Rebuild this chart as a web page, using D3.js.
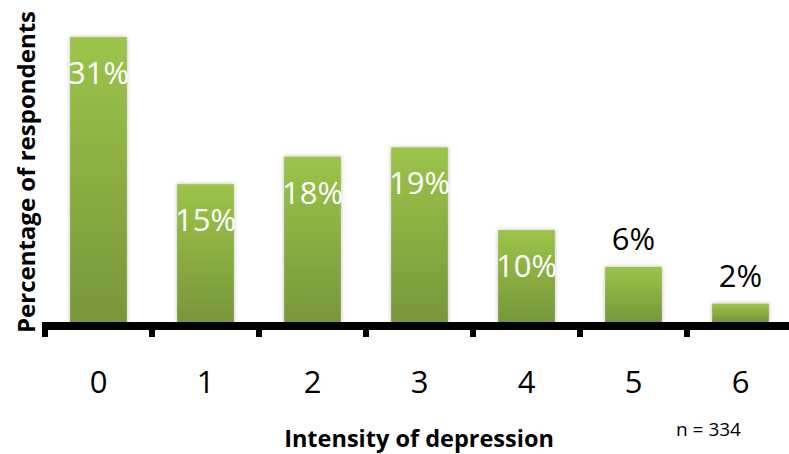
<!DOCTYPE html>
<html>
<head>
<meta charset="utf-8">
<script src="https://cdn.jsdelivr.net/npm/d3@7"></script>
<style>
  html, body { margin: 0; padding: 0; background: #fff; }
  svg { display: block; font-family: "Open Sans", "Liberation Sans", sans-serif; }
</style>
</head>
<body>
<svg id="chart" width="789" height="454"></svg>
<script>
// Distribution of depression intensity scores
const categories = ["0", "1", "2", "3", "4", "5", "6"];
const percentages = [31, 15, 18, 19, 10, 6, 2];
const valueLabels = ["31%", "15%", "18%", "19%", "10%", "6%", "2%"];
const yTitle = "Percentage of respondents";
const xTitle = "Intensity of depression";
const sampleNote = "n = 334";

const svg = d3.select("#chart");
const baseY = 322;

const x = d3.scaleBand()
  .domain(categories)
  .range([45, 45 + 107 * categories.length])
  .paddingInner(0.47)
  .paddingOuter(0.235);

const y = d3.scaleLinear()
  .domain([0, 35])
  .range([baseY, baseY - 35 * 9.19]);

// tick boundaries between categories
const edge = d3.scaleLinear()
  .domain([0, categories.length])
  .range(x.range());

const defs = svg.append("defs");
const grad = defs.append("linearGradient")
  .attr("id", "barFill").attr("x1", 0).attr("y1", 0).attr("x2", 0).attr("y2", 1);
grad.append("stop").attr("offset", "0%").attr("stop-color", "#9cc449");
grad.append("stop").attr("offset", "100%").attr("stop-color", "#77973a");

const shadow = defs.append("filter").attr("id", "barShadow")
  .attr("x", "-20%").attr("y", "-20%").attr("width", "140%").attr("height", "140%");
shadow.append("feDropShadow")
  .attr("dx", 0).attr("dy", 0).attr("stdDeviation", 2.2)
  .attr("flood-color", "#000").attr("flood-opacity", 0.28);

const rows = categories.map((c, i) => ({ c, v: percentages[i], label: valueLabels[i] }));

// bars
svg.append("g").selectAll("rect")
  .data(rows)
  .join("rect")
  .attr("x", d => x(d.c))
  .attr("y", d => y(d.v))
  .attr("width", x.bandwidth())
  .attr("height", d => y(0) - y(d.v))
  .attr("fill", "url(#barFill)")
  .attr("filter", "url(#barShadow)");

// value labels: inside the bar for tall bars, above for short ones
svg.append("g").selectAll("text")
  .data(rows)
  .join("text")
  .attr("x", d => x(d.c) + x.bandwidth() / 2)
  .attr("y", d => d.v >= 10 ? y(d.v) + 47 : y(d.v) - 17)
  .attr("text-anchor", "middle")
  .attr("font-size", 31)
  .attr("fill", d => d.v >= 10 ? "#ffffff" : "#000000")
  .text(d => d.label);

// x axis: heavy baseline with block ticks
const axis = svg.append("g");
axis.append("rect")
  .attr("x", edge(0) - 3)
  .attr("y", baseY)
  .attr("width", 789 - (edge(0) - 3))
  .attr("height", 8)
  .attr("fill", "#000");
axis.selectAll("rect.tick")
  .data(d3.range(categories.length + 1))
  .join("rect")
  .attr("class", "tick")
  .attr("x", d => edge(d) - 3)
  .attr("y", baseY)
  .attr("width", 6)
  .attr("height", 15)
  .attr("fill", "#000");
axis.selectAll("text")
  .data(categories)
  .join("text")
  .attr("x", d => x(d) + x.bandwidth() / 2)
  .attr("y", 393)
  .attr("text-anchor", "middle")
  .attr("font-size", 31)
  .attr("fill", "#000")
  .text(d => d);

// titles
svg.append("text")
  .attr("transform", "translate(35,172) rotate(-90)")
  .attr("text-anchor", "middle")
  .attr("font-size", 24)
  .attr("font-weight", "bold")
  .attr("fill", "#000")
  .text(yTitle);

svg.append("text")
  .attr("x", 419)
  .attr("y", 447)
  .attr("text-anchor", "middle")
  .attr("font-size", 23.5)
  .attr("font-weight", "bold")
  .attr("fill", "#000")
  .text(xTitle);

svg.append("text")
  .attr("x", 676)
  .attr("y", 436)
  .attr("font-size", 19)
  .attr("fill", "#000")
  .text(sampleNote);
</script>
</body>
</html>
